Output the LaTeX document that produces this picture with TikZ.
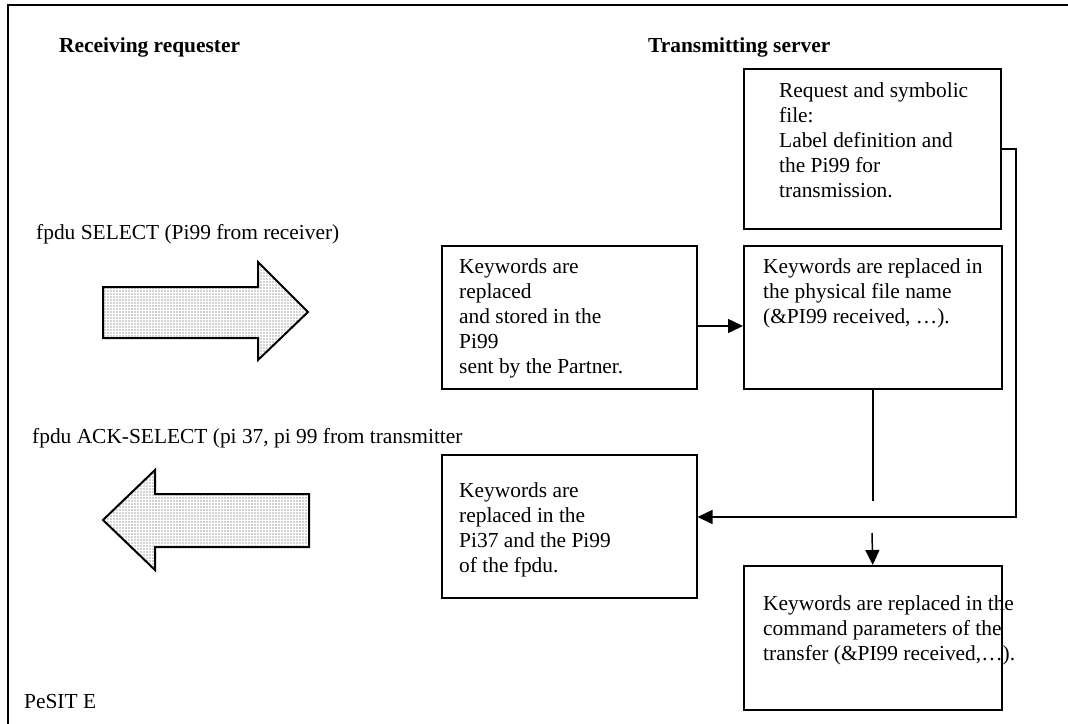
\documentclass[tikz,border=0pt]{standalone}
\usepackage{fontspec}
\setmainfont{Liberation Serif}
\usetikzlibrary{arrows.meta,patterns}
\pgfdeclarepatternformonly{bigdots}{\pgfpoint{-1pt}{-1pt}}{\pgfpoint{1pt}{1pt}}{\pgfpoint{3pt}{3pt}}{\pgfpathcircle{\pgfpointorigin}{0.65pt}\pgfusepath{fill}}
\begin{document}
\begin{tikzpicture}[x=1pt,y=-1pt,
  box/.style={draw,line width=1.5pt,inner sep=0pt,anchor=north west},
  lbl/.style={anchor=base west,inner sep=0pt,font=\fontsize{21.4}{25}\selectfont},
  conn/.style={line width=1.5pt},
  arr/.style={conn,-{Triangle[length=15pt,width=14pt]}},
  bigarrow/.style={draw,line width=2pt,pattern=bigdots,pattern color=black!75}]
\useasboundingbox (0,0) rectangle (1068,723);
\clip (0,0) rectangle (1068,723);
% frame
\draw[line width=1.8pt] (8,760) -- (8,5) -- (1100,5);
% headings
\node[lbl,font=\fontsize{21.4}{25}\selectfont\bfseries] (h1) at (59,52) {Receiving requester};
\node[lbl,font=\fontsize{21.4}{25}\selectfont\bfseries] (h2) at (648,52) {Transmitting server};
\node[lbl] (sel) at (36,239) {fpdu SELECT (Pi99 from receiver)};
\node[lbl] (ack) at (32,443) {fpdu ACK-SELECT (pi 37, pi 99 from transmitter};
\node[lbl] (pesit) at (24,708) {PeSIT E};
% boxes
\node[box,minimum width=257pt,minimum height=160pt] (req) at (743,68) {};
\node[box,minimum width=258pt,minimum height=143pt] (kr1) at (743,245) {};
\node[box,minimum width=255pt,minimum height=143pt] (ks) at (441,245) {};
\node[box,minimum width=255pt,minimum height=143pt] (kp) at (441,454) {};
\node[box,minimum width=258pt,minimum height=144pt] (kc) at (743,565) {};
% box texts
\node[lbl] (reqt) at (779,97) {\begin{tabular}[t]{@{}l@{}}Request and symbolic\\file:\\Label definition and\\the Pi99 for\\transmission.\end{tabular}};
\node[lbl] (kr1t) at (763,273) {\begin{tabular}[t]{@{}l@{}}Keywords are replaced in\\the physical file name\\(\&PI99 received, …).\end{tabular}};
\node[lbl] (kst) at (459,273) {\begin{tabular}[t]{@{}l@{}}Keywords are\\replaced\\and stored in the\\Pi99\\sent by the Partner.\end{tabular}};
\node[lbl] (kpt) at (459,497) {\begin{tabular}[t]{@{}l@{}}Keywords are\\replaced in the\\Pi37 and the Pi99\\of the fpdu.\end{tabular}};
\node[lbl] (kct) at (763,610) {\begin{tabular}[t]{@{}l@{}}Keywords are replaced in the\\command parameters of the\\transfer (\&PI99 received,…).\end{tabular}};
% connectors
\coordinate (y326) at (0,326);
\coordinate (turn) at (1016,517);
\coordinate (y501) at (0,501);
\coordinate (gap) at (872,533);
\draw[arr] (ks.east |- y326) -- (kr1.west |- y326);
\draw[arr] (req.east) -| (turn) -- (turn -| kp.east);
\draw[conn] (kr1.south) -- (kr1.south |- y501);
\draw[arr] (gap) -- (kc.north);
% big arrows
\draw[bigarrow] (103,287) -- (258,287) -- (258,262) -- (308,312) -- (258,360) -- (258,338) -- (103,338) -- cycle;
\draw[bigarrow] (103,520) -- (155,470) -- (155,494) -- (309,494) -- (309,547) -- (155,547) -- (155,570) -- cycle;
\end{tikzpicture}
\end{document}
